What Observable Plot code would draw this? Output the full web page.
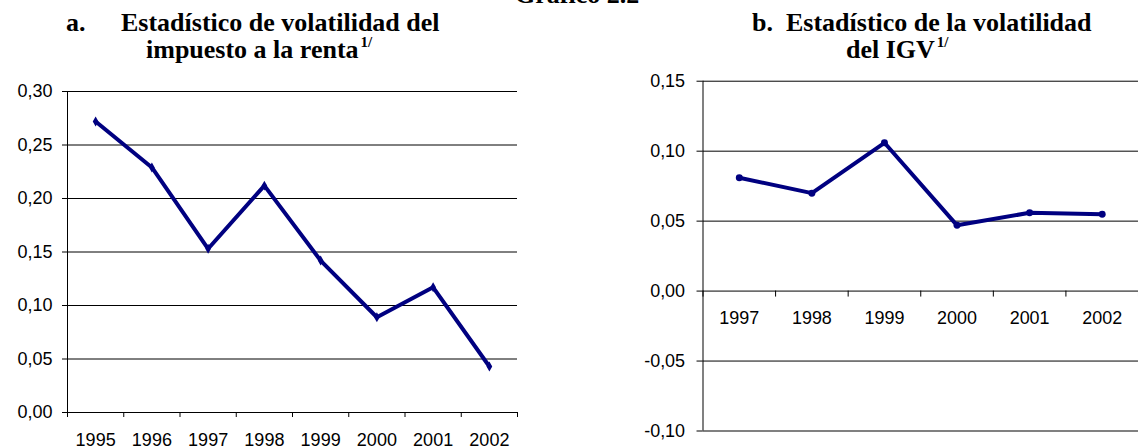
<!DOCTYPE html>
<html><head><meta charset="utf-8">
<script src="https://cdn.jsdelivr.net/npm/d3@7"></script>
<script src="https://cdn.jsdelivr.net/npm/@observablehq/plot@0.6"></script>
<style>
html,body{margin:0;padding:0;background:#fff}
body{width:1138px;height:448px;overflow:hidden;position:relative;font-family:"Liberation Sans",Arial,sans-serif}
.t{position:absolute;font:bold 26px "Liberation Serif","Times New Roman",serif;line-height:1;white-space:nowrap;color:#000}
.t sup{font-size:15px;vertical-align:0;position:relative;top:-11px;margin-left:2px;line-height:1}
.panel{position:absolute;top:0}
</style></head><body>
<div class="t" style="left:515px;top:-18px">Gráfico 2.2</div>
<div class="t" style="left:66px;top:10px">a.</div>
<div class="t" style="left:121px;top:10px">Estadístico de volatilidad del</div>
<div class="t" style="left:146px;top:37px">impuesto a la renta<sup>1/</sup></div>
<div class="t" style="left:752px;top:10px">b.</div>
<div class="t" style="left:786px;top:10px">Estadístico de la volatilidad</div>
<div class="t" style="left:846px;top:37px">del IGV<sup>1/</sup></div>
<div id="a" class="panel" style="left:0px"></div>
<div id="b" class="panel" style="left:560px"></div>
<script>
// Panel a: impuesto a la renta
const yearsA = [1995, 1996, 1997, 1998, 1999, 2000, 2001, 2002];
const valuesA = [0.272, 0.229, 0.153, 0.212, 0.142, 0.089, 0.117, 0.043];
const yTicksA = [0, 0.05, 0.10, 0.15, 0.20, 0.25, 0.30];
// Panel b: IGV
const yearsB = [1997, 1998, 1999, 2000, 2001, 2002];
const valuesB = [0.081, 0.070, 0.106, 0.047, 0.056, 0.055];
const yTicksB = [-0.10, -0.05, 0, 0.05, 0.10, 0.15];

const fmt = d => d.toFixed(2).replace(".", ",");
const navy = "#000080";
const dataA = yearsA.map((year, i) => ({year, value: valuesA[i]}));
const dataB = yearsB.map((year, i) => ({year, value: valuesB[i]}));
const boundsA = yearsA.map(y => y - 0.5).concat([yearsA[yearsA.length - 1] + 0.5]);
const boundsB = yearsB.map(y => y - 0.5).concat([yearsB[yearsB.length - 1] + 0.5]);
const style = {fontFamily: "'Liberation Sans', Arial, sans-serif", fontSize: "18px", color: "#000", background: "transparent", overflow: "visible"};

const plotA = Plot.plot({
  width: 560, height: 448,
  marginLeft: 67, marginRight: 43, marginTop: 91, marginBottom: 36,
  style,
  x: {type: "linear", domain: [boundsA[0], boundsA[boundsA.length - 1]], axis: null},
  y: {domain: [0, 0.30]},
  marks: [
    Plot.ruleY(yTicksA, {stroke: "#000", strokeWidth: 1}),
    Plot.ruleX([boundsA[0]], {stroke: "#000", strokeWidth: 1}),
    Plot.axisY({ticks: yTicksA, tickFormat: fmt, tickSize: 5, tickPadding: 10, label: null}),
    Plot.ruleX(boundsA, {x: d => d, y1: 0, y2: 0, insetBottom: -5, stroke: "#000"}),
    Plot.text(yearsA, {x: d => d, y: 0, dy: 28, text: d => String(d), fill: "#000"}),
    Plot.line(dataA, {x: "year", y: "value", stroke: navy, strokeWidth: 4}),
    Plot.dot(dataA, {x: "year", y: "value", r: 3, fill: navy, symbol: "diamond"})
  ]
});
document.getElementById("a").appendChild(plotA);

const plotB = Plot.plot({
  width: 580, height: 448,
  marginLeft: 143, marginRight: 0, marginTop: 81, marginBottom: 16,
  style,
  x: {type: "linear", domain: [boundsB[0], boundsB[boundsB.length - 1]], axis: null},
  y: {domain: [-0.10, 0.15]},
  marks: [
    Plot.ruleY(yTicksB, {stroke: "#000", strokeWidth: 1}),
    Plot.ruleX([boundsB[0]], {stroke: "#000", strokeWidth: 1}),
    Plot.axisY({ticks: yTicksB, tickFormat: fmt, tickSize: 6, tickPadding: 12, label: null}),
    Plot.ruleX(boundsB, {x: d => d, y1: 0, y2: 0, insetBottom: -6, stroke: "#000"}),
    Plot.text(yearsB, {x: d => d, y: 0, dy: 27, text: d => String(d), fill: "#000"}),
    Plot.line(dataB, {x: "year", y: "value", stroke: navy, strokeWidth: 4}),
    Plot.dot(dataB, {x: "year", y: "value", r: 3.5, fill: navy})
  ]
});
document.getElementById("b").appendChild(plotB);
</script>
</body></html>
